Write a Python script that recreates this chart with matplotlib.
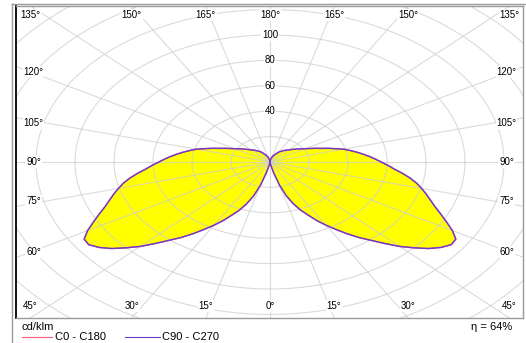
import numpy as np
import matplotlib.pyplot as plt
from matplotlib.lines import Line2D

plt.rcParams['font.family'] = ['Liberation Sans', 'DejaVu Sans']

# gamma angle from nadir (deg) and luminous intensity (cd/klm)
gamma = [0, 2.5, 5, 7.5, 10, 12.5, 15, 17.5, 20, 22.5, 25, 27.5, 30, 32.5,
         35, 37.5, 40, 42.5, 45, 47.5, 50, 52.5, 55, 57.5, 60, 62.5, 65,
         67.5, 70, 72.5, 75, 77.5, 80, 82.5, 85, 87.5, 90, 92.5, 95, 97.5,
         100, 102.5, 105, 107.5, 110, 112.5, 115, 117.5, 120, 125, 130, 135,
         140, 145, 150, 155, 160, 165, 170, 175, 180]
intensity_c0 = [0, 0, 0.5, 1.5, 3, 9, 19, 28, 35, 41, 46, 52, 57.5, 63,
                69, 75, 80.5, 87, 94, 100, 106, 110.5, 113.5, 113, 108, 102,
                96.5, 91.5, 87.5, 84, 80.5, 77, 73, 68.5, 64, 60.5, 57, 54,
                51, 48, 45, 42, 39, 35, 31.5, 28, 25.5, 23, 21, 18, 15.5,
                13.5, 12, 10.5, 9, 7, 5.5, 4, 2.5, 1, 0]
intensity_c90 = list(intensity_c0)

ring_values = [40, 60, 80, 100]
angle_ticks = [0, 15, 30, 45, 60, 75, 90, 105, 120, 135, 150, 165, 180]
series_labels = ['C0 - C180', 'C90 - C270']
unit_label = 'cd/klm'
efficiency_label = 'η = 64%'

W, H = 526, 343
# plot box in pixels and pole position
box_l, box_r, box_t, box_b = 16, 523, 6, 318
cx, cy = 270, 162
sx, sy = 1.95, 1.27   # pixels per cd/klm, horizontal / vertical

fig = plt.figure(figsize=(W / 100, H / 100), dpi=100)
ax = fig.add_axes([box_l / W, (H - box_b) / H, (box_r - box_l) / W,
                   (box_b - box_t) / H])
x0, x1 = (box_l - cx) / sx, (box_r - cx) / sx
y0, y1 = (cy - box_b) / sy, (cy - box_t) / sy
ax.set_xlim(x0, x1)
ax.set_ylim(y0, y1)
ax.set_xticks([])
ax.set_yticks([])
for side, sp in ax.spines.items():
    sp.set_color('black' if side == 'left' else '#9a9a9a')
    sp.set_linewidth(1.3 if side == 'left' else 1.0)

grid_kw = dict(color='#cfcfcf', lw=0.8, zorder=2, alpha=0.75)
t = np.linspace(0, 2 * np.pi, 400)
for r in range(20, 240, 20):
    ax.plot(r * np.cos(t), r * np.sin(t), **grid_kw)
for a in range(0, 360, 15):
    ar = np.radians(a)
    ax.plot([0, 400 * np.sin(ar)], [0, -400 * np.cos(ar)], **grid_kw)


def lobe(values):
    g = np.radians(gamma)
    r = np.asarray(values)
    return r * np.sin(g), -r * np.cos(g)


colors = ['#ff5a78', '#6a3cc8']
for vals in (intensity_c0, intensity_c90):
    xr, yr = lobe(vals)
    for sgn in (1, -1):
        ax.fill(sgn * xr, yr, color='#ffff00', zorder=1, lw=0)
for vals, col in zip([intensity_c0, intensity_c90], colors):
    xr, yr = lobe(vals)
    for sgn in (1, -1):
        ax.plot(sgn * xr, yr, color=col, lw=1.0, zorder=3)

txt_kw = dict(fontsize=7, ha='center', va='center', zorder=5,
              bbox=dict(facecolor='white', edgecolor='none', pad=0.6))
for r in ring_values:
    ax.text(0, r, str(r), **txt_kw)

# angle labels where each spoke meets the plot box
x_in = (box_r - box_l) / 2 / sx - 17 / sx
y_in_top = y1 - 9 / sy
y_in_bot = y0 + 12 / sy
for a in angle_ticks:
    ar = np.radians(a)
    dx, dy = round(np.sin(ar), 9), round(-np.cos(ar), 9)
    for sgn in ((1,) if a in (0, 180) else (1, -1)):
        ddx = sgn * dx
        tx = (x1 if ddx > 0 else x0) / ddx if ddx != 0 else np.inf
        ty = (y1 if dy > 0 else y0) / dy if dy != 0 else np.inf
        if ty <= tx:
            px = ddx * ty
            py = y_in_top if dy > 0 else y_in_bot
        else:
            px = sgn * x_in
            py = dy * tx
            py -= np.sign(py) * 4
        ax.text(px, py, f'{a}°', **txt_kw)

# outer frame
fig.add_artist(Line2D([12 / W, 12 / W], [0, 1 - 4 / H], color='#9a9a9a', lw=1))
fig.add_artist(Line2D([12 / W, 1], [1 - 4 / H, 1 - 4 / H], color='#9a9a9a', lw=1))

fig.text(22 / W, 1 - 327 / H, unit_label, fontsize=8, va='center', ha='left')
fig.text(512 / W, 1 - 327 / H, efficiency_label, fontsize=8, va='center',
         ha='right')
leg_y = 1 - 337 / H
for (lx0, lx1, tx0), lab, col in zip([(22, 52, 55), (125, 160, 162)],
                                     series_labels, colors):
    fig.add_artist(Line2D([lx0 / W, lx1 / W], [leg_y, leg_y], color=col, lw=0.8))
    fig.text(tx0 / W, leg_y, lab, fontsize=8, va='center', ha='left')

fig.savefig('out.png', dpi=100)
